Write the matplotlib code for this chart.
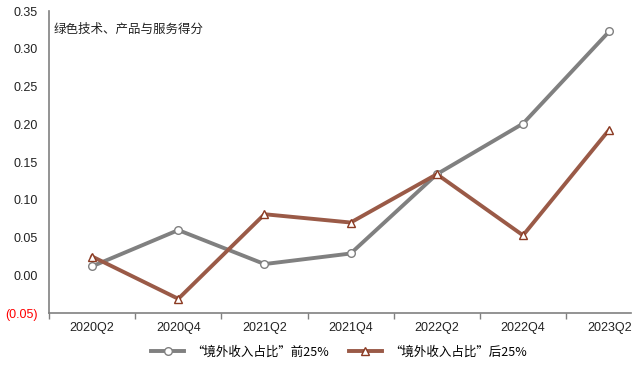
import numpy as np
import matplotlib
matplotlib.use("Agg")
import matplotlib.pyplot as plt
from matplotlib.ticker import FixedLocator, FuncFormatter

plt.rcParams['font.family'] = ['Liberation Sans', 'Noto Sans CJK SC', 'DejaVu Sans']

# data
quarters = ['2020Q2', '2020Q4', '2021Q2', '2021Q4', '2022Q2', '2022Q4', '2023Q2']
top25 = [0.012, 0.060, 0.015, 0.029, 0.134, 0.201, 0.323]
bottom25 = [0.025, -0.031, 0.081, 0.070, 0.134, 0.053, 0.193]
label_top = '“境外收入占比”前25%'
label_bottom = '“境外收入占比”后25%'
yticks = [-0.05, 0, 0.05, 0.10, 0.15, 0.20, 0.25, 0.30, 0.35]

fig = plt.figure(figsize=(6.4, 3.68), dpi=100)
ax = fig.add_axes([0.0766, 0.149, 0.909, 0.821])

x = np.arange(len(quarters))
ax.plot(x, top25, color='#808080', lw=2.8, marker='o', ms=5.5,
        mfc='white', mec='#808080', mew=1.0, label=label_top, zorder=3)
ax.plot(x, bottom25, color='#9A5A47', lw=2.8, marker='^', ms=6,
        mfc='white', mec='#8B3A22', mew=1.0, label=label_bottom, zorder=3)

ax.set_xlim(-0.5, 6.25)
ax.set_ylim(-0.05, 0.35)

ax.set_xticks(x)
ax.set_xticklabels(quarters, fontsize=9, color='#222222')
ax.xaxis.set_minor_locator(FixedLocator(np.arange(-0.5, 6.6, 1)))
ax.tick_params(axis='x', which='major', length=0, pad=6)
ax.tick_params(axis='x', which='minor', length=4, color='#808080', width=1)

ax.set_yticks(yticks)
ax.yaxis.set_major_formatter(FuncFormatter(
    lambda v, p: '({:.2f})'.format(-v) if v < -1e-9 else '{:.2f}'.format(v)))
ax.tick_params(axis='y', length=0, labelsize=9, labelcolor='#222222', pad=8)
for lab, v in zip(ax.get_yticklabels(), yticks):
    if v < 0:
        lab.set_color('#FF0000')

for s in ['top', 'right']:
    ax.spines[s].set_visible(False)
for s in ['left', 'bottom']:
    ax.spines[s].set_color('#808080')
    ax.spines[s].set_linewidth(1.2)

ax.text(0.008, 0.96, '绿色技术、产品与服务得分', transform=ax.transAxes,
        fontsize=9, va='top', ha='left', color='#222222',
        family=['Noto Sans CJK SC', 'DejaVu Sans'])

leg = fig.legend(loc='lower center', bbox_to_anchor=(0.53, -0.005), ncol=2,
                 frameon=False, handlelength=2.6, columnspacing=1.6,
                 handletextpad=0.6,
                 prop={'family': ['Noto Sans CJK SC', 'DejaVu Sans'], 'size': 9})

fig.savefig('out.png', dpi=100)
